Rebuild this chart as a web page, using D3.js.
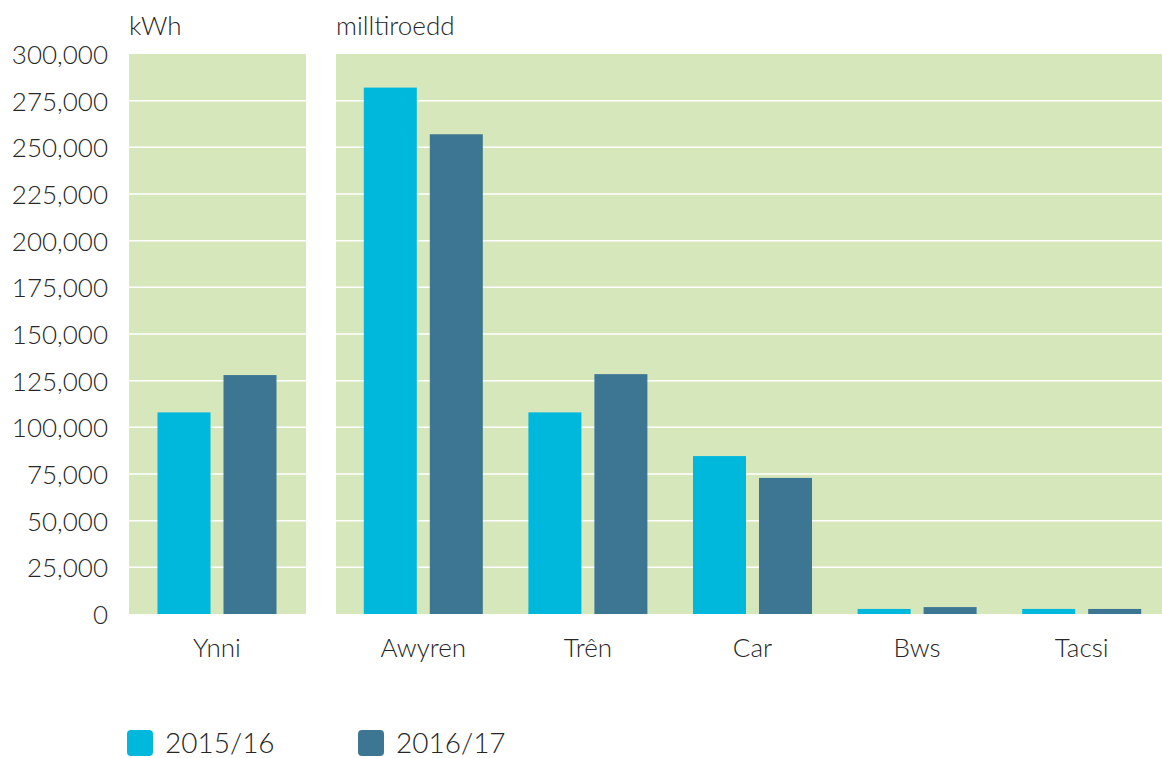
<!DOCTYPE html>
<html>
<head>
<meta charset="utf-8">
<script src="https://cdn.jsdelivr.net/npm/d3@7"></script>
<style>
  body { margin: 0; background: #fff; }
  svg text { font-family: 'Lato', sans-serif; font-weight: 300; fill: #262626; }
</style>
</head>
<body>
<script>
// data
const series = ['2015/16', '2016/17'];
const colors = ['#00b7dc', '#3d7693'];
const energyCats = ['Ynni'];
const energyA = [108000];
const energyB = [128000];
const travelCats = ['Awyren', 'Trên', 'Car', 'Bws', 'Tacsi'];
const travelA = [282000, 108000, 84600, 2700, 2700];
const travelB = [257000, 128500, 72900, 3700, 2700];
const yTicks = [0, 25000, 50000, 75000, 100000, 125000, 150000, 175000, 200000, 225000, 250000, 275000, 300000];

const width = 1162, height = 758;
const plotTop = 54, plotBottom = 614;

const svg = d3.select('body').append('svg')
  .attr('width', width)
  .attr('height', height);

const y = d3.scaleLinear().domain([0, 300000]).range([plotBottom, plotTop]);

// the two panels
const panels = [
  { title: 'kWh', cats: energyCats, a: energyA, b: energyB, bg: [129, 306], band: [128, 306] },
  { title: 'milltiroedd', cats: travelCats, a: travelA, b: travelB, bg: [336, 1162], band: [341, 1164] }
];

panels.forEach(function(p) {
  const g = svg.append('g');

  g.append('rect')
    .attr('x', p.bg[0])
    .attr('y', plotTop)
    .attr('width', p.bg[1] - p.bg[0])
    .attr('height', plotBottom - plotTop)
    .attr('fill', '#d5e7bb');

  // white gridlines
  g.selectAll('line.grid')
    .data(yTicks.filter(d => d > 0 && d < 300000))
    .join('line')
    .attr('x1', p.bg[0])
    .attr('x2', p.bg[1])
    .attr('y1', d => y(d))
    .attr('y2', d => y(d))
    .attr('stroke', '#fff')
    .attr('stroke-width', 1.5);

  const x0 = d3.scaleBand().domain(p.cats).range(p.band);
  const x1 = d3.scaleBand().domain(series).range([0, 119]).paddingInner(0.197);

  const rows = p.cats.map((c, i) => ({ cat: c, vals: [p.a[i], p.b[i]] }));

  g.selectAll('g.grp')
    .data(rows)
    .join('g')
    .attr('transform', d => `translate(${x0(d.cat) + x0.bandwidth() / 2 - 59.5},0)`)
    .selectAll('rect')
    .data(d => d.vals.map((v, i) => ({ s: series[i], v: v, i: i })))
    .join('rect')
    .attr('x', d => x1(d.s))
    .attr('y', d => y(d.v))
    .attr('width', x1.bandwidth())
    .attr('height', d => y(0) - y(d.v))
    .attr('fill', d => colors[d.i]);

  // category labels
  const xAxis = d3.axisBottom(x0).tickSize(0).tickPadding(0);
  const ax = g.append('g')
    .attr('transform', `translate(0,${plotBottom})`)
    .call(xAxis);
  ax.select('.domain').remove();
  ax.selectAll('text')
    .attr('y', 43)
    .attr('dy', 0)
    .attr('font-size', 26)
    .style('font-family', "'Lato', sans-serif")
    .style('font-weight', 300)
    .attr('fill', '#262626');

  g.append('text')
    .attr('x', p.bg[0])
    .attr('y', 35)
    .attr('font-size', 26)
    .text(p.title);
});

// Y axis labels
const yAxis = d3.axisLeft(y).tickValues(yTicks).tickSize(0).tickPadding(0)
  .tickFormat(d3.format(','));
const ya = svg.append('g')
  .attr('transform', 'translate(108,0)')
  .call(yAxis);
ya.select('.domain').remove();
ya.selectAll('text')
  .attr('dy', '0.36em')
  .attr('font-size', 26)
  .style('font-family', "'Lato', sans-serif")
  .style('font-weight', 300)
  .attr('fill', '#262626');

// legend
const legend = svg.append('g');
const lx = [127, 358];
series.forEach(function(s, i) {
  legend.append('rect')
    .attr('x', lx[i])
    .attr('y', 730)
    .attr('width', 26)
    .attr('height', 26)
    .attr('rx', 4)
    .attr('fill', colors[i]);
  legend.append('text')
    .attr('x', lx[i] + 38)
    .attr('y', 753)
    .attr('font-size', 28)
    .text(s);
});
</script>
</body>
</html>
